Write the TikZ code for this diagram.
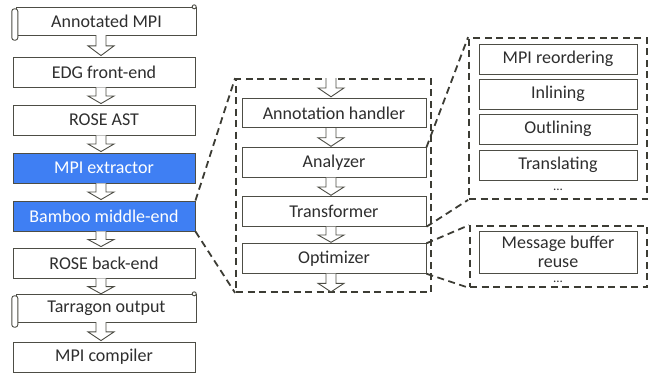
\documentclass[tikz,border=0pt]{standalone}
\usepackage{fontspec}
\setmainfont{Carlito}
\usetikzlibrary{calc}
\definecolor{txt}{HTML}{2E2E2E}
\definecolor{edge}{HTML}{4D4D45}
\definecolor{bluefill}{HTML}{3F7FF3}
\definecolor{dashc}{HTML}{3C3C34}
\tikzset{
  box/.style={draw=edge, line width=0.9pt, fill=white, minimum width=182pt, minimum height=30pt,
    inner sep=0pt, font=\fontsize{18}{20}\selectfont, text=txt},
  bluebox/.style={box, fill=bluefill, text=white},
  midbox/.style={box, minimum width=184pt, minimum height=29.5pt},
  rbox/.style={box, minimum width=158pt, minimum height=30pt},
  scrollbox/.style={inner sep=0pt, minimum width=179pt, minimum height=27pt,
    font=\fontsize{18}{20}\selectfont, text=txt},
  dashbox/.style={draw=dashc, line width=1.8pt, dash pattern=on 7pt off 4.5pt, inner sep=0pt},
  zoomline/.style={draw=dashc, line width=1.8pt, dash pattern=on 7pt off 4.5pt},
  harrowstyle/.style={draw=edge, line width=0.9pt, fill=white, line join=miter},
  dots/.style={font=\fontsize{13}{14}\selectfont, text=txt, inner sep=0pt}
}
% hollow block arrow between two points (x taken from first point)
\newcommand{\harrow}[2]{%
  \draw[harrowstyle] let \p1=#1, \p2=#2, \n1={(\y1-\y2)/2} in
    ({\x1-8pt},\y1) -- ({\x1-8pt},{\y1-\n1}) -- ({\x1-16pt},{\y1-\n1}) -- ({\x1-3pt},{\y2+1pt})
    -- ({\x1+10pt},{\y1-\n1}) -- ({\x1+2pt},{\y1-\n1}) -- ({\x1+2pt},\y1);%
}
% scroll decoration around a node
\newcommand{\scrolldeco}[1]{%
  \draw[edge, line width=0.9pt, fill=white] (#1.north west) rectangle (#1.south east);
  \draw[edge, line width=0.9pt, fill=white, rounded corners=2.5pt]
    ($(#1.north west)+(-5,1)$) rectangle ($(#1.south west)+(1,5)$);
  \draw[edge, line width=0.9pt, fill=white] ($(#1.north east)+(-2,-1)$) circle (2pt);
}
\begin{document}
\begin{tikzpicture}[x=1pt, y=-1pt]
\useasboundingbox (0,0) rectangle (654,373);

% left column
\node[scrollbox] (ann) at (106.5,21.5) {};
\scrolldeco{ann}
\node[scrollbox] at (ann) {Annotated MPI};
\node[box] (edg) at (104,72) {EDG front-end};
\node[box] (ast) at (104,120) {ROSE AST};
\node[bluebox] (ext) at (104,168) {MPI extractor};
\node[bluebox] (bam) at (104,216) {Bamboo middle-end};
\node[box] (back) at (104,263) {ROSE back-end};
\node[scrollbox] (tar) at (106.5,308.5) {};
\scrolldeco{tar}
\node[scrollbox] at (tar) {Tarragon output};
\node[box] (comp) at (104,357) {MPI compiler};

\harrow{(ann.south -| edg.south)}{(edg.north)}
\harrow{(edg.south)}{(ast.north)}
\harrow{(ast.south)}{(ext.north)}
\harrow{(ext.south)}{(bam.north)}
\harrow{(bam.south)}{(back.north)}
\harrow{(back.south)}{(tar.north -| back.south)}
\harrow{(tar.south -| comp.north)}{(comp.north)}

% middle dashed box
\node[dashbox, minimum width=195pt, minimum height=213pt] (mid) at (333.5,185.5) {};
\node[midbox] (ah) at (334,113) {Annotation handler};
\node[midbox] (ana) at (334,162.5) {Analyzer};
\node[midbox] (tra) at (334,211.5) {Transformer};
\node[midbox] (opt) at (334,258.5) {Optimizer};
\harrow{(mid.north -| ah.north)}{(ah.north)}
\harrow{(ah.south)}{(ana.north)}
\harrow{(ana.south)}{(tra.north)}
\harrow{(tra.south)}{(opt.north)}
\harrow{(opt.south)}{(mid.south -| opt.south)}

% right dashed box 1
\node[dashbox, minimum width=178pt, minimum height=161pt] (r1) at (558,118.5) {};
\node[rbox] (reo) at (558,59) {MPI reordering};
\node[rbox] (inl) at (558,94) {Inlining};
\node[rbox] (outl) at (558,129) {Outlining};
\node[rbox] (trl) at (558,165) {Translating};
\node[dots] (d1) at (558,190) {...};

% right dashed box 2
\node[dashbox, minimum width=177pt, minimum height=61pt] (r2) at (558.5,256.5) {};
\node[rbox, minimum height=42pt, align=center, font=\fontsize{18}{19}\selectfont] (mbr) at (558,252)
  {Message buffer\\reuse};
\node[dots] (d2) at (558,282) {...};

% zoom lines
\draw[zoomline] (bam.north east) -- (mid.north west);
\draw[zoomline] (bam.south east) -- (mid.south west);
\draw[zoomline] (ana.north east) -- (r1.north west);
\draw[zoomline] (tra.south east) -- (r1.south west);
\draw[zoomline] (opt.north east) -- (r2.north west);
\draw[zoomline] (opt.south east) -- (r2.south west);
\end{tikzpicture}
\end{document}
